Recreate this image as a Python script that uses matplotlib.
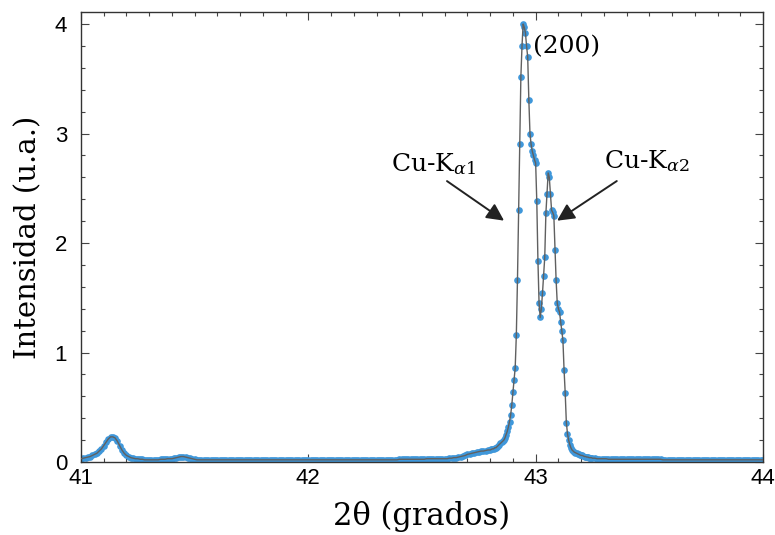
import numpy as np
import matplotlib
matplotlib.use("Agg")
import matplotlib.pyplot as plt
from matplotlib.ticker import MultipleLocator

plt.rcParams["mathtext.fontset"] = "dejavuserif"

# XRD scan, 2theta in degrees (three sampling segments)
x_left = np.round(np.arange(41.00, 42.795, 0.01), 3)
y_left = [
    0.03, 0.035, 0.04, 0.045, 0.05, 0.06, 0.07, 0.08, 0.10, 0.12,
    0.15, 0.18, 0.21, 0.23, 0.23, 0.22, 0.19, 0.15, 0.11, 0.08,
    0.06, 0.05, 0.04, 0.035, 0.03, 0.03, 0.025, 0.025, 0.02, 0.02,
    0.02, 0.02, 0.02, 0.02, 0.02, 0.025, 0.025, 0.025, 0.03, 0.03,
    0.03, 0.035, 0.04, 0.045, 0.05, 0.05, 0.045, 0.04, 0.035, 0.03,
    0.025, 0.02, 0.02, 0.02, 0.02, 0.02, 0.02, 0.02, 0.02, 0.02,
    0.02, 0.02, 0.02, 0.02, 0.02, 0.02, 0.02, 0.02, 0.02, 0.02,
    0.02, 0.02, 0.02, 0.02, 0.02, 0.02, 0.02, 0.02, 0.02, 0.02,
    0.02, 0.02, 0.02, 0.02, 0.02, 0.02, 0.02, 0.02, 0.02, 0.02,
    0.02, 0.02, 0.02, 0.02, 0.02, 0.02, 0.02, 0.02, 0.02, 0.02,
    0.02, 0.02, 0.02, 0.02, 0.02, 0.02, 0.02, 0.02, 0.02, 0.02,
    0.02, 0.02, 0.02, 0.02, 0.02, 0.02, 0.02, 0.02, 0.02, 0.02,
    0.02, 0.02, 0.02, 0.02, 0.02, 0.02, 0.02, 0.02, 0.02, 0.02,
    0.02, 0.02, 0.02, 0.02, 0.02, 0.02, 0.02, 0.02, 0.02, 0.02,
    0.025, 0.025, 0.025, 0.025, 0.025, 0.025, 0.025, 0.025, 0.025, 0.025,
    0.025, 0.025, 0.03, 0.03, 0.03, 0.03, 0.03, 0.03, 0.03, 0.03,
    0.03, 0.03, 0.035, 0.035, 0.04, 0.04, 0.045, 0.05, 0.055, 0.06,
    0.07, 0.075, 0.08, 0.085, 0.09, 0.095, 0.10, 0.10, 0.105, 0.11,
]

x_peak = np.round(np.arange(42.800, 43.2525, 0.005), 3)
y_peak = [
    0.11, 0.115, 0.12, 0.12, 0.13, 0.13, 0.14, 0.15, 0.16, 0.17,
    0.18, 0.19, 0.20, 0.22, 0.25, 0.28, 0.32, 0.37, 0.43, 0.52,
    0.64, 0.75, 0.86, 1.16, 1.66, 2.30, 2.90, 3.52, 3.80, 4.00,
    3.97, 3.92, 3.80, 3.70, 3.31, 3.00, 2.90, 2.84, 2.80, 2.76,
    2.73, 2.38, 1.84, 1.45, 1.32, 1.40, 1.54, 1.70, 1.87, 2.27,
    2.45, 2.64, 2.60, 2.45, 2.30, 2.28, 2.25, 1.94, 1.66, 1.45,
    1.40, 1.37, 1.28, 1.20, 1.11, 0.84, 0.63, 0.36, 0.26, 0.20,
    0.16, 0.13, 0.11, 0.10, 0.09, 0.085, 0.08, 0.075, 0.07, 0.065,
    0.06, 0.06, 0.055, 0.05, 0.05, 0.045, 0.045, 0.04, 0.04, 0.04,
    0.035,
]

x_right = np.round(np.arange(43.26, 44.005, 0.01), 3)
y_right = [
    0.035, 0.03, 0.03, 0.03, 0.03, 0.03, 0.025, 0.025, 0.025, 0.025,
    0.025, 0.025, 0.025, 0.025, 0.025, 0.025, 0.025, 0.025, 0.025, 0.025,
    0.025, 0.025, 0.025, 0.025, 0.025, 0.025, 0.025, 0.025, 0.025, 0.025,
    0.02, 0.02, 0.02, 0.02, 0.02, 0.02, 0.02, 0.02, 0.02, 0.02,
    0.02, 0.02, 0.02, 0.02, 0.02, 0.02, 0.02, 0.02, 0.02, 0.02,
    0.02, 0.02, 0.02, 0.02, 0.02, 0.02, 0.02, 0.02, 0.02, 0.02,
    0.02, 0.02, 0.02, 0.02, 0.02, 0.02, 0.02, 0.02, 0.02, 0.02,
    0.02, 0.02, 0.02, 0.02, 0.02,
]

two_theta = np.concatenate([x_left, x_peak, x_right])
intensity = np.concatenate([y_left, y_peak, y_right[:len(x_right)]])

serif = ["DejaVu Serif"]

fig = plt.figure(figsize=(7.75, 5.35), dpi=100)
ax = fig.add_axes([0.1045, 0.1364, 0.88, 0.8412])

ax.plot(two_theta, intensity, ls="none", marker="o", ms=4.8,
        color="#3f97da", mec="none", zorder=2)
ax.plot(two_theta, intensity, color="#606060", lw=1.0, zorder=3)

ax.set_xlim(41, 44)
ax.set_ylim(0, 4.11)
ax.xaxis.set_major_locator(MultipleLocator(1))
ax.xaxis.set_minor_locator(MultipleLocator(0.1))
ax.yaxis.set_major_locator(MultipleLocator(1))
ax.yaxis.set_minor_locator(MultipleLocator(0.2))
ax.tick_params(which="both", direction="in", top=True, right=True,
               labelsize=16, width=0.8, color="#444444")
ax.tick_params(which="major", length=6)
ax.tick_params(axis="x", which="major", pad=4)
ax.tick_params(axis="y", which="major", pad=10)
ax.tick_params(which="minor", length=3)
for lab in ax.get_xticklabels() + ax.get_yticklabels():
    lab.set_family("Liberation Sans")
for sp in ax.spines.values():
    sp.set_linewidth(1.0)
    sp.set_color("#333333")

ax.set_xlabel("2θ (grados)", family=serif, fontsize=22, labelpad=9)
ax.set_ylabel("Intensidad (u.a.)", family=serif, fontsize=21, labelpad=9)

# annotations
ax.text(42.99, 3.79, "(200)", family=serif, fontsize=18, va="center")
ax.text(42.55, 2.72, r"Cu-K$_{\alpha 1}$", family=serif, fontsize=18,
        ha="center", va="center")
ax.text(43.49, 2.75, r"Cu-K$_{\alpha 2}$", family=serif, fontsize=18,
        ha="center", va="center")
arrow = dict(arrowstyle="-|>", mutation_scale=26, lw=1.4, color="#222222")
ax.annotate("", xy=(42.871, 2.19), xytext=(42.60, 2.58), arrowprops=arrow)
ax.annotate("", xy=(43.084, 2.19), xytext=(43.367, 2.58), arrowprops=arrow)

fig.savefig("out.png", dpi=100)
